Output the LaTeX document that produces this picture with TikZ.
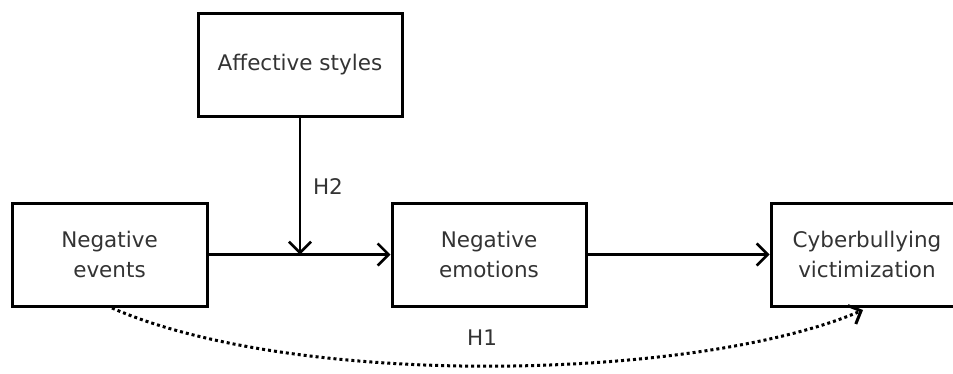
\documentclass[tikz,border=0pt]{standalone}
\usepackage{fontspec}
\setmainfont{DejaVu Sans}
\usetikzlibrary{arrows.meta}
\definecolor{txt}{HTML}{333333}
\tikzset{
  box/.style={draw=black, line width=3pt, minimum height=103pt, inner sep=0pt, align=center, font=\fontsize{21.5}{30}\selectfont, text=txt},
  lbl/.style={font=\fontsize{21.5}{26}\selectfont, text=txt, inner sep=0pt},
  arr/.style={line width=2.6pt, -{Straight Barb[length=11pt,width=22pt,line width=2.6pt]}},
  dotarr/.style={line width=3pt, dash pattern=on 3pt off 3pt, -{Straight Barb[length=10pt,width=20pt,line width=3pt]}}
}
\begin{document}
\begin{tikzpicture}[x=1pt,y=-1pt]
\useasboundingbox (0,0) rectangle (953,373);
\clip (0,0) rectangle (953,373);
\node[box, minimum width=195pt] (ne) at (109.5,254.5) {Negative\\events};
\node[box, minimum width=204pt] (as) at (300,64.5) {Affective styles};
\node[box, minimum width=194pt] (nem) at (489,254.5) {Negative\\emotions};
\node[box, minimum width=192pt] (cv) at (867,254.5) {Cyberbullying\\victimization};
\coordinate (mid) at (300,254.5);
\draw[arr] (ne.east) -- (nem.west);
\draw[arr] (nem.east) -- (cv.west);
\draw[arr] (as.south) -- (mid);
\node[lbl] (h2) at (328,187) {H2};
\node[lbl] (h1) at (482,338) {H1};
\draw[dotarr] (112,308) .. controls (300,390) and (700,380) .. (863,310);
\end{tikzpicture}
\end{document}
